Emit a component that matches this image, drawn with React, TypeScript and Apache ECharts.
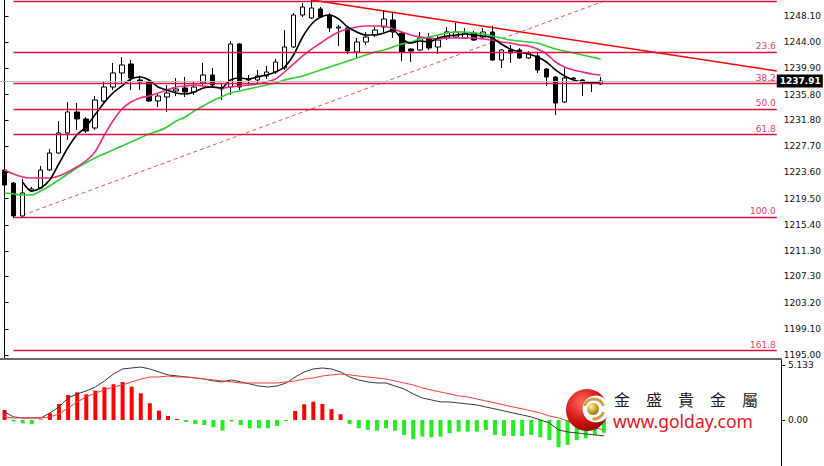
import React, { useEffect, useRef } from 'react';
import * as echarts from 'echarts';

// [open, close, low, high]
const candles: number[][] = [
  [1223.98, 1221.63, 1221.32, 1224.29],
  [1221.94, 1216.78, 1216.47, 1222.10],
  [1216.78, 1220.38, 1216.62, 1222.57],
  [1220.69, 1221.01, 1220.54, 1221.32],
  [1221.16, 1223.98, 1221.01, 1224.61],
  [1223.98, 1226.64, 1223.82, 1227.27],
  [1226.64, 1229.78, 1226.49, 1231.66],
  [1229.78, 1233.07, 1228.68, 1234.63],
  [1233.07, 1231.97, 1230.25, 1234.48],
  [1231.97, 1230.09, 1229.78, 1232.28],
  [1230.56, 1234.95, 1230.25, 1235.57],
  [1234.79, 1236.98, 1234.32, 1237.92],
  [1236.98, 1239.18, 1236.51, 1240.74],
  [1239.18, 1240.43, 1237.61, 1241.68],
  [1240.59, 1238.39, 1236.51, 1241.21],
  [1238.08, 1237.77, 1236.51, 1238.71],
  [1237.77, 1234.79, 1234.63, 1238.24],
  [1234.79, 1235.57, 1233.85, 1236.04],
  [1235.42, 1236.04, 1233.07, 1237.30],
  [1236.36, 1236.67, 1235.57, 1238.39],
  [1236.83, 1236.20, 1235.42, 1238.55],
  [1236.20, 1236.98, 1235.73, 1237.77],
  [1237.61, 1238.86, 1237.30, 1240.74],
  [1238.86, 1237.30, 1236.83, 1239.96],
  [1236.83, 1236.67, 1234.95, 1237.45],
  [1236.98, 1243.72, 1235.73, 1244.19],
  [1243.72, 1236.98, 1236.51, 1243.87],
  [1238.08, 1238.24, 1237.30, 1238.86],
  [1238.08, 1238.71, 1237.61, 1239.65],
  [1238.71, 1239.33, 1238.24, 1240.27],
  [1239.33, 1240.90, 1239.02, 1241.37],
  [1239.96, 1243.25, 1239.65, 1245.91],
  [1243.25, 1248.26, 1243.09, 1248.57],
  [1248.26, 1249.51, 1247.95, 1250.14],
  [1247.79, 1249.36, 1247.63, 1250.61],
  [1249.20, 1247.95, 1247.79, 1249.51],
  [1248.26, 1246.22, 1245.60, 1248.57],
  [1246.22, 1246.38, 1243.40, 1246.69],
  [1246.22, 1242.62, 1242.15, 1246.38],
  [1242.46, 1244.03, 1241.52, 1244.66],
  [1244.03, 1244.81, 1243.56, 1245.60],
  [1245.13, 1245.91, 1244.81, 1246.38],
  [1246.38, 1247.63, 1245.60, 1249.04],
  [1247.48, 1245.60, 1244.66, 1248.73],
  [1245.44, 1242.46, 1241.06, 1245.75],
  [1242.93, 1242.62, 1240.90, 1243.09],
  [1242.78, 1244.66, 1242.62, 1245.60],
  [1244.66, 1243.09, 1242.78, 1245.44],
  [1243.25, 1244.34, 1242.15, 1244.97],
  [1244.66, 1245.60, 1244.34, 1246.38],
  [1244.81, 1245.60, 1244.66, 1247.01],
  [1244.66, 1245.44, 1244.50, 1246.22],
  [1245.44, 1244.34, 1244.19, 1245.75],
  [1244.81, 1245.60, 1244.66, 1246.22],
  [1245.60, 1241.21, 1241.06, 1246.54],
  [1241.21, 1242.78, 1239.96, 1242.93],
  [1242.78, 1242.31, 1240.74, 1243.56],
  [1242.78, 1241.52, 1241.37, 1243.09],
  [1241.52, 1242.31, 1241.37, 1242.62],
  [1241.84, 1239.65, 1239.18, 1242.31],
  [1239.80, 1238.55, 1237.14, 1239.96],
  [1238.55, 1234.48, 1232.60, 1238.71],
  [1234.63, 1238.39, 1234.48, 1240.12],
  [1238.24, 1238.39, 1238.08, 1238.55],
  [1238.08, 1237.77, 1235.57, 1238.24],
  [1237.77, 1237.61, 1236.20, 1237.92],
  [1237.45, 1237.91, 1237.30, 1238.55],
];

const maFast: (number | null)[] = [
  null, null, 1222.10, 1220.69, 1221.16, 1222.42, 1224.92, 1227.43, 1229.46, 1230.72,
  1232.60, 1234.48, 1236.04, 1237.14, 1238.24, 1238.55, 1238.08, 1236.98, 1236.51, 1236.04,
  1235.89, 1236.20, 1236.83, 1236.98, 1236.83, 1238.08, 1238.39, 1238.24, 1238.55, 1238.86,
  1239.33, 1240.12, 1241.99, 1244.81, 1246.85, 1247.95, 1248.26, 1247.63, 1246.38, 1245.60,
  1245.13, 1245.13, 1245.44, 1245.91, 1244.50, 1243.87, 1244.19, 1244.03, 1244.66, 1244.97,
  1245.13, 1245.28, 1245.13, 1244.97, 1244.66, 1243.72, 1242.93, 1242.46, 1242.15, 1241.68,
  1240.90, 1239.65, 1238.71, 1238.08, 1237.77, 1237.61, 1237.77,
];

const maMid: number[] = [
  1223.98, 1223.35, 1222.88, 1222.73, 1222.73, 1222.73, 1223.04, 1223.67, 1224.45, 1225.39,
  1226.80, 1229.31, 1231.66, 1233.54, 1234.63, 1235.26, 1235.57, 1236.04, 1236.51, 1236.98,
  1237.14, 1237.30, 1237.14, 1236.98, 1236.83, 1236.98, 1237.14, 1237.30, 1237.45, 1237.77,
  1238.24, 1239.33, 1240.59, 1241.84, 1242.93, 1243.87, 1244.81, 1245.60, 1246.07, 1246.38,
  1246.54, 1246.54, 1246.54, 1246.07, 1245.60, 1245.13, 1244.81, 1244.66, 1244.50, 1244.66,
  1244.66, 1244.66, 1244.66, 1244.50, 1244.34, 1244.03, 1243.87, 1243.56, 1243.40, 1242.93,
  1242.15, 1240.90, 1240.12, 1239.65, 1239.33, 1239.02, 1238.86,
];

const maSlow: number[] = [
  1220.38, 1220.22, 1220.07, 1220.07, 1220.69, 1221.48, 1222.42, 1223.35, 1224.29, 1225.08,
  1225.86, 1226.49, 1227.11, 1227.74, 1228.37, 1228.99, 1229.62, 1230.09, 1230.72, 1231.66,
  1232.28, 1233.23, 1234.01, 1234.79, 1235.42, 1236.04, 1236.36, 1236.67, 1236.98, 1237.30,
  1237.61, 1238.08, 1238.39, 1238.71, 1239.18, 1239.65, 1240.12, 1240.59, 1241.06, 1241.52,
  1241.99, 1242.46, 1242.78, 1243.25, 1243.72, 1244.03, 1244.50, 1244.81, 1245.13, 1245.44,
  1245.60, 1245.60, 1245.44, 1245.28, 1244.97, 1244.66, 1244.34, 1244.19, 1244.03, 1243.87,
  1243.40, 1242.93, 1242.62, 1242.31, 1241.99, 1241.68, 1241.37,
];

const macdHist: number[] = [
  0.93, -0.15, -0.30, -0.40, 0.05, 0.62, 1.49, 2.33, 2.58, 2.39,
  2.74, 3.05, 3.33, 3.54, 3.11, 2.49, 1.56, 0.87, 0.37, 0.09,
  -0.19, -0.37, -0.47, -0.68, -1.00, -0.15, -0.47, -0.78, -0.78, -0.78,
  -0.56, -0.10, 0.84, 1.46, 1.71, 1.49, 1.00, 0.53, -0.37, -0.78,
  -0.93, -1.00, -0.78, -1.00, -1.40, -1.80, -1.55, -1.62, -1.55, -1.24,
  -1.09, -1.09, -1.09, -0.93, -1.40, -1.49, -1.49, -1.49, -1.40, -1.62,
  -1.87, -2.55, -2.33, -1.87, -1.71, -1.40, -1.20,
];

const macdLine: number[] = [
  0.75, 0.28, 0.19, 0.19, 0.19, 0.65, 1.21, 2.05, 2.43, 2.71,
  3.08, 3.64, 4.29, 4.76, 4.85, 4.94, 4.76, 4.48, 4.20, 4.11,
  4.01, 3.92, 3.82, 3.64, 3.55, 3.73, 3.55, 3.36, 3.17, 3.08,
  3.17, 3.45, 4.01, 4.48, 4.76, 4.85, 4.76, 4.48, 4.01, 3.73,
  3.55, 3.45, 3.45, 3.17, 2.89, 2.43, 2.05, 1.87, 1.68, 1.68,
  1.59, 1.49, 1.40, 1.21, 1.03, 0.84, 0.65, 0.47, 0.28, 0,
  -0.28, -0.93, -1.12, -1.21, -1.31, -1.40, -1.49,
];

const signalLine: number[] = [
  0.28, 0.19, 0.19, 0.19, 0.19, 0.28, 0.56, 1.12, 1.68, 2.15,
  2.52, 2.80, 3.08, 3.27, 3.55, 3.82, 4.01, 4.01, 4.10, 4.01,
  4.01, 3.92, 3.82, 3.73, 3.64, 3.55, 3.45, 3.45, 3.45, 3.45,
  3.45, 3.55, 3.64, 3.82, 3.92, 4.10, 4.20, 4.29, 4.20, 4.10,
  4.01, 3.92, 3.82, 3.64, 3.45, 3.27, 2.99, 2.80, 2.61, 2.43,
  2.24, 2.15, 1.96, 1.77, 1.59, 1.40, 1.21, 1.03, 0.84, 0.65,
  0.37, 0.19, -0.09, -0.37, -0.56, -0.75, -0.93,
];

const priceTicks: number[] = [
  1195.0, 1199.1, 1203.2, 1207.3, 1211.3, 1215.4, 1219.5,
  1223.6, 1227.7, 1231.8, 1235.8, 1239.9, 1244.0, 1248.1,
];
const macdTicks: number[] = [0, 5.133];

const fibLevels: number[] = [1250.45, 1242.47, 1237.53, 1233.54, 1229.54, 1216.62, 1195.71];
const fibLabels: string[] = ['', '23.6', '38.2', '50.0', '61.8', '100.0', '161.8'];
const fibStartIndex = 1;

const trendDown: number[][] = [[34, 1250.61], [85.5, 1239.49]];
const trendUp: number[][] = [[2, 1216.9], [66.5, 1250.5]];
const lastPrice = 1237.91;
const slotCount = 86;

const categories = Array.from({ length: slotCount }, (_, i) => String(i));

export default function App() {
  const ref = useRef<HTMLDivElement>(null);

  useEffect(() => {
    if (!ref.current) return;
    const chart = echarts.init(ref.current, null, { renderer: 'svg' });
    const axisFont = { fontSize: 9, fontFamily: 'DejaVu Sans', color: '#111' };
    const gold = new echarts.graphic.RadialGradient(0.35, 0.3, 0.8, [
      { offset: 0, color: '#fff2b0' },
      { offset: 0.5, color: '#d4a930' },
      { offset: 1, color: '#8a6510' },
    ]);
    const redBall = new echarts.graphic.RadialGradient(0.38, 0.32, 0.8, [
      { offset: 0, color: '#ff6a5a' },
      { offset: 0.55, color: '#d41515' },
      { offset: 1, color: '#850000' },
    ]);

    const option: any = {
      animation: false,
      backgroundColor: '#ffffff',
      grid: [
        { left: 0, top: 0, width: 781, height: 358, containLabel: false },
        { left: 0, top: 359, width: 781, height: 107, containLabel: false },
      ],
      xAxis: [
        {
          type: 'category', gridIndex: 0, data: categories, boundaryGap: true,
          axisLine: { show: false }, axisTick: { show: false }, axisLabel: { show: false }, splitLine: { show: false },
        },
        {
          type: 'value', gridIndex: 0, min: -0.5, max: slotCount - 0.5,
          axisLine: { show: false }, axisTick: { show: false }, axisLabel: { show: false }, splitLine: { show: false },
        },
        {
          type: 'category', gridIndex: 1, data: categories, boundaryGap: true, position: 'top',
          axisLine: { show: true, onZero: false, lineStyle: { color: '#6a6a6a', width: 2 } },
          axisTick: { show: false }, axisLabel: { show: false }, splitLine: { show: false },
        },
      ],
      yAxis: [
        {
          type: 'value', gridIndex: 0, position: 'right', min: 1194.53, max: 1250.61,
          axisLine: { show: true, lineStyle: { color: '#000', width: 1 } },
          axisTick: { show: true, length: 4, customValues: priceTicks, lineStyle: { color: '#000' } },
          axisLabel: { ...axisFont, margin: 7, customValues: priceTicks, formatter: (v: number) => v.toFixed(2) },
          splitLine: { show: false },
        },
        {
          type: 'value', gridIndex: 1, position: 'right', min: -4.3, max: 5.69,
          axisLine: { show: true, lineStyle: { color: '#000', width: 1 } },
          axisTick: { show: true, length: 4, customValues: macdTicks, lineStyle: { color: '#000' } },
          axisLabel: {
            ...axisFont, margin: 7, customValues: macdTicks,
            formatter: (v: number) => (v === 0 ? '0.00' : v.toFixed(3)),
          },
          splitLine: { show: false },
        },
      ],
      series: [
        {
          name: 'trendDown', type: 'line', xAxisIndex: 1, yAxisIndex: 0, data: trendDown,
          symbol: 'none', silent: true, z: 1,
          lineStyle: { color: '#ff0000', width: 1.6 },
          markLine: {
            silent: true, symbol: ['none', 'none'], animation: false,
            lineStyle: { color: '#dc143c', width: 1.4, type: 'solid' },
            label: {
              show: true, position: 'insideEndTop', formatter: '{b}', distance: 1,
              color: '#e2416e', fontSize: 9, fontFamily: 'DejaVu Sans',
            },
            data: fibLevels.map((lvl, k) => [
              { name: fibLabels[k], coord: [fibStartIndex, lvl] },
              { coord: [slotCount - 0.5, lvl] },
            ]),
          },
        },
        {
          name: 'trendUp', type: 'line', xAxisIndex: 1, yAxisIndex: 0, data: trendUp,
          symbol: 'none', silent: true, z: 1,
          lineStyle: { color: '#e05555', width: 1, type: [4, 3] },
        },
        {
          name: 'price', type: 'candlestick', xAxisIndex: 0, yAxisIndex: 0, data: candles,
          barWidth: 5, z: 2,
          itemStyle: {
            color: '#ffffff', color0: '#000000', borderColor: '#000000', borderColor0: '#000000', borderWidth: 1,
          },
          markLine: {
            silent: true, symbol: ['none', 'none'], animation: false,
            lineStyle: { color: '#c0c0c0', width: 1, type: 'solid' },
            label: {
              show: true, position: 'end', distance: 0, formatter: lastPrice.toFixed(2),
              backgroundColor: '#000', color: '#fff', fontSize: 9, fontWeight: 'bold',
              fontFamily: 'DejaVu Sans', padding: [2, 2, 2, 3],
            },
            data: [{ yAxis: lastPrice }],
          },
        },
        {
          name: 'maSlow', type: 'line', xAxisIndex: 0, yAxisIndex: 0, data: maSlow,
          symbol: 'none', smooth: 0.3, z: 3, lineStyle: { color: '#2ed12e', width: 1.6 },
        },
        {
          name: 'maMid', type: 'line', xAxisIndex: 0, yAxisIndex: 0, data: maMid,
          symbol: 'none', smooth: 0.3, z: 3, lineStyle: { color: '#f0288c', width: 1.6 },
        },
        {
          name: 'maFast', type: 'line', xAxisIndex: 0, yAxisIndex: 0, data: maFast,
          symbol: 'none', smooth: 0.3, z: 4, lineStyle: { color: '#000000', width: 1.6 },
        },
        {
          name: 'hist', type: 'bar', xAxisIndex: 2, yAxisIndex: 1, barWidth: 4,
          data: macdHist.map((v) => ({ value: v, itemStyle: { color: v >= 0 ? '#ff0000' : '#22ee22' } })),
        },
        {
          name: 'macd', type: 'line', xAxisIndex: 2, yAxisIndex: 1, data: macdLine,
          symbol: 'none', lineStyle: { color: '#3a3a3a', width: 1 }, z: 3,
        },
        {
          name: 'signal', type: 'line', xAxisIndex: 2, yAxisIndex: 1, data: signalLine,
          symbol: 'none', lineStyle: { color: '#ff3a3a', width: 1 }, z: 3,
        },
      ],
      graphic: [
        { type: 'circle', z: 100, shape: { cx: 587, cy: 410, r: 21 }, style: { fill: redBall } },
        { type: 'circle', z: 101, shape: { cx: 596, cy: 409, r: 13.5 }, style: { fill: '#ffffff' } },
        {
          type: 'arc', z: 102,
          shape: { cx: 594, cy: 409, r: 10, startAngle: Math.PI * 1.1, endAngle: Math.PI * 1.9, clockwise: true },
          style: { stroke: '#c9a23a', lineWidth: 3, fill: 'none' },
        },
        {
          type: 'arc', z: 102,
          shape: { cx: 594, cy: 409, r: 10, startAngle: Math.PI * 0.1, endAngle: Math.PI * 0.55, clockwise: true },
          style: { stroke: '#c9a23a', lineWidth: 3, fill: 'none' },
        },
        { type: 'circle', z: 103, shape: { cx: 593, cy: 409, r: 6 }, style: { fill: gold } },
        {
          type: 'text', z: 103, x: 614, y: 399,
          style: {
            text: '金　盛　貴　金　屬', fill: '#1e1e1e', fontSize: 16,
            fontFamily: 'Noto Sans CJK TC', verticalAlign: 'middle', align: 'left',
          },
        },
        {
          type: 'text', z: 103, x: 613, y: 421,
          style: {
            text: 'www.golday.com', fill: '#e8141e', fontSize: 17.5,
            fontFamily: 'Noto Sans', verticalAlign: 'middle', align: 'left',
          },
        },
      ],
    };

    chart.setOption(option);
    return () => {
      chart.dispose();
    };
  }, []);

  return (
    <div
      ref={ref}
      style={{ position: 'fixed', left: 0, top: 0, width: 824, height: 466, background: '#fff' }}
    />
  );
}
